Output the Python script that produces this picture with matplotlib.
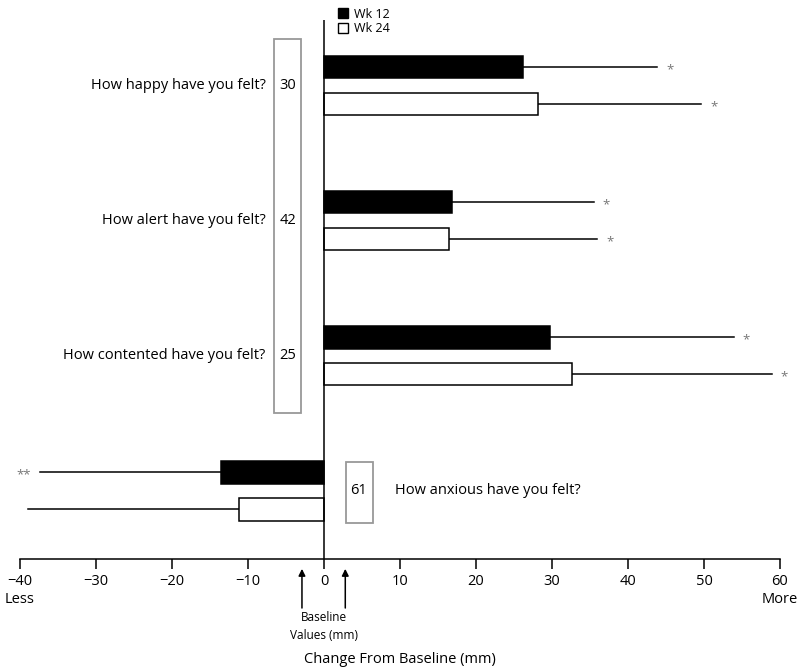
import numpy as np
import matplotlib.pyplot as plt
from matplotlib.patches import Patch, Rectangle

plt.rcParams["font.family"] = ["Open Sans", "DejaVu Sans"]

questions = ["How happy have you felt?", "How alert have you felt?",
             "How contented have you felt?", "How anxious have you felt?"]
baseline = [30, 42, 25, 61]
wk12 = [26.2, 16.8, 29.7, -13.6]
wk24 = [28.2, 16.4, 32.6, -11.2]
err12 = [17.6, 18.7, 24.2, 23.8]
err24 = [21.4, 19.5, 26.3, 27.7]
sig12 = ["*", "*", "*", "**"]
sig24 = ["*", "*", "*", ""]
xticks = [-40, -30, -20, -10, 0, 10, 20, 30, 40, 50, 60]

fig = plt.figure(figsize=(8.01, 6.70), dpi=100)
ax = fig.add_axes([20 / 801, 1 - 559 / 670, 760 / 801, 539 / 670])

y = np.arange(len(questions))
off, h = 0.137, 0.17
star_col = "#777777"

for i in range(len(questions)):
    for val, err, sig, dy, fc in [(wk12[i], err12[i], sig12[i], -off, "black"),
                                  (wk24[i], err24[i], sig24[i], off, "white")]:
        yy = y[i] + dy
        ax.barh(yy, val, height=h, color=fc, edgecolor="black", lw=1.1, zorder=3)
        end = val + np.sign(val) * err
        ax.plot([val, end], [yy, yy], color="black", lw=1.1, zorder=2)
        if sig:
            pad = 1.2 * np.sign(val)
            ax.text(end + pad, yy + 0.02, sig, color=star_col, fontsize=9.5,
                    ha="left" if val > 0 else "right", va="center")

# question labels
for i in range(3):
    ax.text(-7.7, y[i], questions[i], ha="right", va="center", fontsize=10.5)
    ax.text(-4.8, y[i], str(baseline[i]), ha="center", va="center", fontsize=10.5)
ax.text(9.4, y[3], questions[3], ha="left", va="center", fontsize=10.5)
ax.text(4.6, y[3], str(baseline[3]), ha="center", va="center", fontsize=10.5)

# baseline boxes
ax.add_patch(Rectangle((-6.6, -0.344), 3.6, 2.77, fill=False, ec="#999999", lw=1.3))
ax.add_patch(Rectangle((2.9, 2.788), 3.5, 0.452, fill=False, ec="#999999", lw=1.3))

ax.axvline(0, color="black", lw=1.1, zorder=4)
ax.set_xlim(-40, 60)
ax.set_ylim(3.507, -0.485)
ax.set_xticks(xticks)
ax.set_xticklabels([f"\u2212{abs(t)}" if t < 0 else str(t) for t in xticks], fontsize=10.5)
ax.tick_params(axis="x", direction="out", length=7, width=1.1, pad=4)
ax.set_yticks([])
for s in ["top", "right", "left"]:
    ax.spines[s].set_visible(False)
ax.spines["bottom"].set_linewidth(1.1)

ax.text(-40, 3.81, "Less", ha="center", va="center", fontsize=10.5)
ax.text(60, 3.81, "More", ha="center", va="center", fontsize=10.5)

for xa in [-2.9, 2.8]:
    ax.annotate("", xy=(xa, 3.58), xytext=(xa, 3.87), annotation_clip=False,
                arrowprops=dict(arrowstyle="-|>", color="black", lw=1.1,
                                mutation_scale=10, shrinkA=0, shrinkB=0))
ax.text(0, 3.89, "Baseline\nValues (mm)", ha="center", va="top", fontsize=8.5,
        linespacing=1.5)
ax.text(10, 4.255, "Change From Baseline (mm)", ha="center", va="center", fontsize=10.5)

handles = [Patch(facecolor="black", edgecolor="black"),
           Patch(facecolor="white", edgecolor="black")]
fig.legend(handles, ["Wk 12", "Wk 24"], loc="upper left",
           bbox_to_anchor=(330 / 801, 1.0), frameon=False, fontsize=9,
           handlelength=0.8, handleheight=0.8, handletextpad=0.5,
           labelspacing=0.15, borderpad=0.1)

fig.savefig("out.png", dpi=100)
